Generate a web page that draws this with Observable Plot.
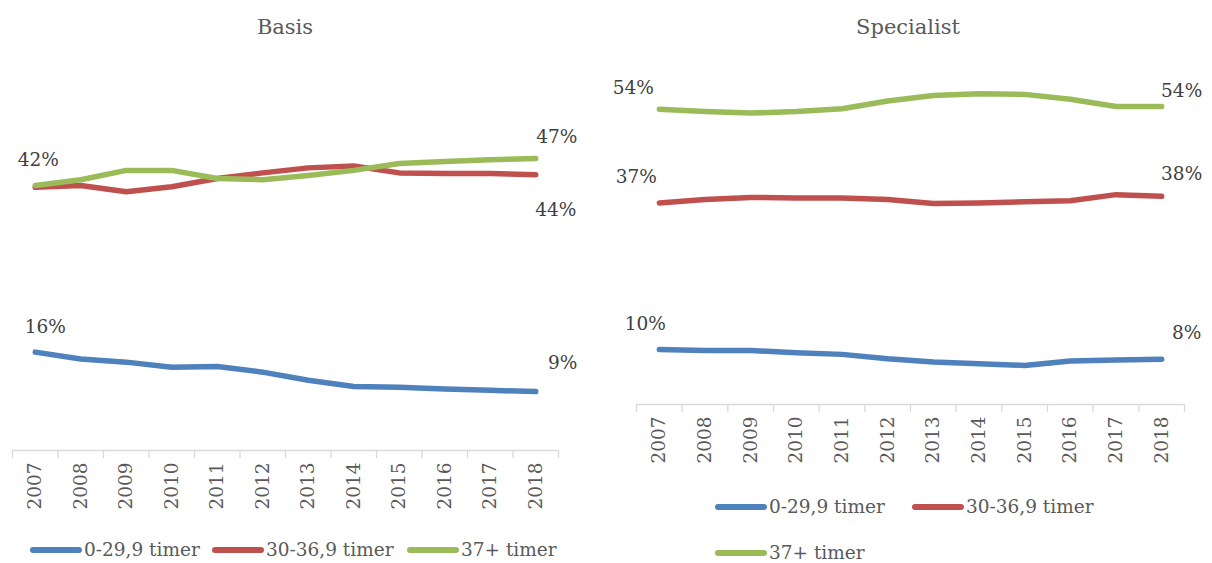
<!DOCTYPE html>
<html><head><meta charset="utf-8">
<script src="https://cdn.jsdelivr.net/npm/d3@7"></script>
<script src="https://cdn.jsdelivr.net/npm/@observablehq/plot@0.6"></script>
<style>
html,body{margin:0;padding:0;background:#fff;}
body{width:1212px;height:563px;overflow:hidden;position:relative;font-family:"DejaVu Serif",serif;}
.title{position:absolute;top:0;height:54px;line-height:54px;text-align:center;font-size:21px;color:#595959;}
.chart{position:absolute;top:54px;}
.item{position:absolute;display:flex;align-items:center;white-space:nowrap;font-size:18.5px;color:#595959;height:24px;line-height:24px;}
.swatch{width:52px;height:6px;border-radius:3px;margin-right:2px;}
</style></head><body>
<script>
// ---- data ----
const years = [2007, 2008, 2009, 2010, 2011, 2012, 2013, 2014, 2015, 2016, 2017, 2018];
const seriesNames = ["0-29,9 timer", "30-36,9 timer", "37+ timer"];
const seriesColors = ["#4f81bd", "#c0504d", "#9bbb59"];
const panelTitles = ["Basis", "Specialist"];

// Basis (%)
const basisShort = [15.7, 14.6, 14.1, 13.3, 13.4, 12.5, 11.2, 10.2, 10.1, 9.8, 9.6, 9.4];
const basisMid   = [42.0, 42.3, 41.3, 42.1, 43.4, 44.3, 45.1, 45.4, 44.3, 44.2, 44.2, 44.0];
const basisLong  = [42.3, 43.2, 44.7, 44.7, 43.4, 43.2, 43.9, 44.7, 45.8, 46.1, 46.4, 46.6];

// Specialist (%)
const specShort = [10.0, 9.8, 9.8, 9.4, 9.1, 8.3, 7.7, 7.4, 7.1, 7.9, 8.1, 8.2];
const specMid   = [36.6, 37.2, 37.6, 37.5, 37.5, 37.2, 36.5, 36.6, 36.8, 37.0, 38.1, 37.8];
const specLong  = [53.6, 53.2, 52.9, 53.2, 53.7, 55.1, 56.1, 56.4, 56.3, 55.4, 54.1, 54.1];

function toRows(arrs) {
  const rows = [];
  arrs.forEach((arr, s) => arr.forEach((v, i) => rows.push({year: years[i], value: v, series: seriesNames[s]})));
  return rows;
}

// label placement (style): series index, which end, pixel offsets
const basisLabels = [
  {s: 0, end: "first", dx: 10, dy: -25}, {s: 2, end: "first", dx: 3, dy: -25},
  {s: 0, end: "last", dx: 27, dy: -29}, {s: 1, end: "last", dx: 20, dy: 35}, {s: 2, end: "last", dx: 21, dy: -21}
];
const specLabels = [
  {s: 0, end: "first", dx: -14, dy: -25}, {s: 1, end: "first", dx: -23, dy: -26}, {s: 2, end: "first", dx: -26, dy: -21},
  {s: 0, end: "last", dx: 25, dy: -26}, {s: 1, end: "last", dx: 20, dy: -22}, {s: 2, end: "last", dx: 20, dy: -15}
];

function makePanel(arrs, labels, cfg) {
  const rows = toRows(arrs);
  const boundaries = years.map(y => y - 0.5).concat([years[years.length - 1] + 0.5]);
  const labelMarks = labels.map(l => {
    const i = l.end === "first" ? 0 : years.length - 1;
    const d = {year: years[i], value: arrs[l.s][i]};
    return Plot.text([d], {x: "year", y: "value", text: d => Math.round(d.value) + "%",
      dx: l.dx, dy: l.dy, fill: "#404040", fontSize: 18.5, textAnchor: "middle"});
  });
  return Plot.plot({
    width: cfg.width, height: cfg.height,
    marginLeft: cfg.ml, marginRight: cfg.mr, marginTop: cfg.mt, marginBottom: cfg.mb,
    style: {fontFamily: "DejaVu Serif", fontSize: "18.5px", background: "transparent", color: "#595959"},
    x: {domain: [years[0] - 0.5, years[years.length - 1] + 0.5]},
    y: {domain: [0, 60], axis: null},
    color: {domain: seriesNames, range: seriesColors},
    marks: [
      Plot.ruleY([0], {stroke: "#d9d9d9", strokeWidth: 1.3}),
      Plot.axisX(boundaries, {tickSize: 8, tickFormat: () => "", stroke: "#d9d9d9", strokeWidth: 1.3, label: null}),
      Plot.axisX(years, {tickSize: 0, tickPadding: 12, tickRotate: -90, tickFormat: d => String(d), label: null, fill: "#595959", fontSize: 18.5}),
      Plot.line(rows, {x: "year", y: "value", z: "series", stroke: "series", strokeWidth: 5.5, strokeLinecap: "round", strokeLinejoin: "round"}),
      ...labelMarks
    ]
  });
}

function addTitle(text, left, width) {
  const t = document.createElement("div");
  t.className = "title"; t.textContent = text;
  t.style.left = left + "px"; t.style.width = width + "px";
  document.body.appendChild(t);
}
function addChart(svg, left) {
  const wrap = document.createElement("div");
  wrap.className = "chart"; wrap.style.left = left + "px";
  wrap.appendChild(svg);
  document.body.appendChild(wrap);
}
function addLegendItem(idx, left, centerY) {
  const it = document.createElement("div");
  it.className = "item";
  it.style.left = left + "px"; it.style.top = (centerY - 12) + "px";
  const sw = document.createElement("div");
  sw.className = "swatch"; sw.style.background = seriesColors[idx];
  const tx = document.createElement("span"); tx.textContent = seriesNames[idx];
  it.appendChild(sw); it.appendChild(tx);
  document.body.appendChild(it);
}

addTitle(panelTitles[0], 0, 570);
addTitle(panelTitles[1], 606, 604);

addChart(makePanel([basisShort, basisMid, basisLong], basisLabels,
  {width: 600, height: 466, ml: 12, mr: 42, mt: 20, mb: 70}), 0);
addChart(makePanel([specShort, specMid, specLong], specLabels,
  {width: 606, height: 426, ml: 30, mr: 28, mt: 19.5, mb: 76}), 606);

addLegendItem(0, 30, 550);
addLegendItem(1, 212, 550);
addLegendItem(2, 407, 550);
addLegendItem(0, 715, 507);
addLegendItem(1, 912, 507);
addLegendItem(2, 715, 553);
</script>
</body></html>
